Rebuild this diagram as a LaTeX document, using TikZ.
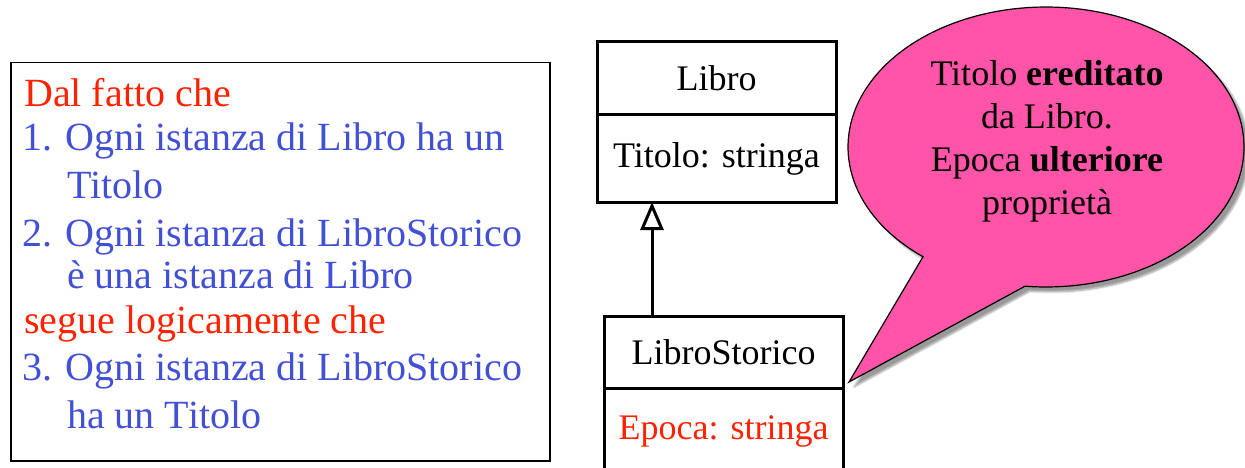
\documentclass[tikz,border=0pt]{standalone}
\usepackage{fontspec}
\setmainfont{Liberation Serif}
\usetikzlibrary{arrows.meta, positioning, shadows.blur}
\definecolor{cRed}{RGB}{255,34,0}
\definecolor{cBlue}{RGB}{66,80,214}
\definecolor{cPink}{RGB}{255,84,168}
\tikzset{
    umlbox/.style ={rectangle, draw=black, line width=3pt, outer sep=0pt, inner sep=0pt, minimum width=239pt, font=\fontsize{36}{43}\selectfont},
    reason/.style ={anchor=base west, inner sep=0pt, font=\fontsize{40}{43}\selectfont},
    inherit/.style={-{Triangle[open, length=28pt, width=23pt]}, line width=3pt},
    bubble/.style ={fill=cPink, draw=black, line width=1.2pt, blur shadow={shadow xshift=5pt, shadow yshift=-5pt, shadow blur steps=6, shadow opacity=40}},
}

\begin{document}
\begin{tikzpicture}[x=1pt, y=-1pt]
        \useasboundingbox (0,0) rectangle (1245,468);
        % reasoning box
        \node[draw=black, line width=1.5pt, minimum width=539pt, minimum height=398pt, anchor=north west, inner sep=0pt] (reasonbox) at (10,62) {};
        \foreach \yy/\xx/\col/\txt [count=\i] in {107/24/cRed/Dal fatto che,
                151/22/cBlue/1. Ogni istanza di Libro ha un,
                198/67/cBlue/Titolo,
                246/22/cBlue/2. Ogni istanza di LibroStorico,
                288/67/cBlue/è una istanza di Libro,
                333/24/cRed/segue logicamente che,
                380/22/cBlue/3. Ogni istanza di LibroStorico,
                428/67/cBlue/ha un Titolo}
            \node[reason, text=\col] (reason\i) at (\xx,\yy) {\txt};

        % classes
        \node[umlbox, minimum height=73pt] (libro) at (716.5,78.5) {Libro};
        \node[umlbox, minimum height=87pt, below=0pt of libro] (libroattr) {Titolo: stringa};
        \node[umlbox, minimum height=72pt] (storico) at (723.5,352) {LibroStorico};
        \node[umlbox, minimum height=87pt, below=0pt of storico, text=cRed] (storicoattr) {Epoca: stringa};

        % generalisation
        \draw[inherit] ([xshift=-71.5pt]storico.north) -- ([xshift=-71.5pt]storico.north |- libroattr.south);

        % speech bubble
        \coordinate (tip) at (849,382);
        \draw[bubble] plot[domain=128.4:456.1, samples=150] ({1046+198*cos(\x)},{147+140*sin(\x)}) -- (tip) -- cycle;
        \node[font=\fontsize{36}{43}\selectfont, align=center, inner sep=0pt] (note) at (1047,141) {Titolo \textbf{ereditato}\\da Libro.\\Epoca \textbf{ulteriore}\\proprietà};
    \end{tikzpicture}
\end{document}
